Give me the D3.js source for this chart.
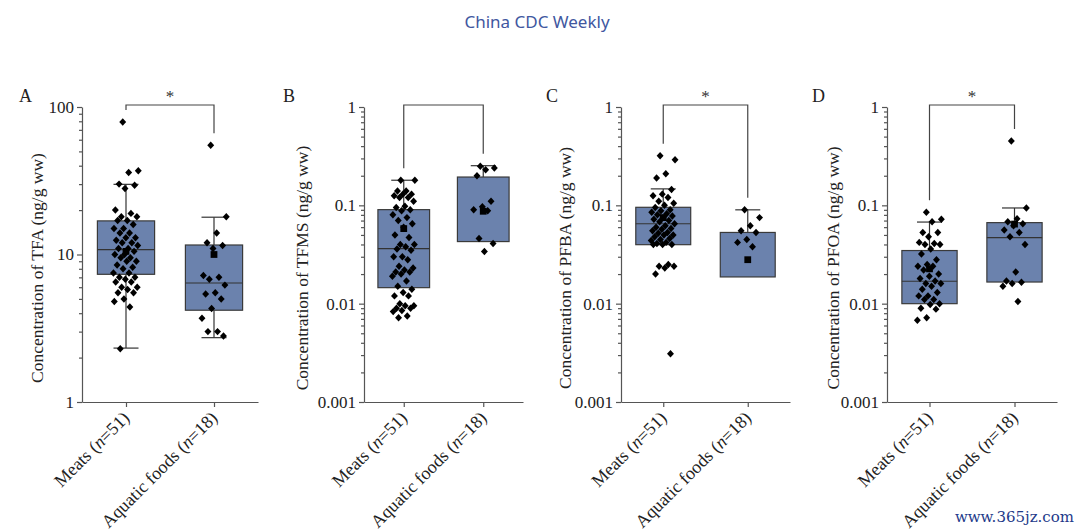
<!DOCTYPE html>
<html>
<head>
<meta charset="utf-8">
<script src="https://cdn.jsdelivr.net/npm/d3@7"></script>
<style>
  body { margin: 0; background: #fff; }
  svg { display: block; }
</style>
</head>
<body>
<div id="chart"></div>
<script>
// categories
const groups = ["Meats", "Aquatic foods"];
const groupN = [51, 18];
const panelLetters = ["A", "B", "C", "D"];
const compounds = ["TFA", "TFMS", "PFBA", "PFOA"];
const yDomains = [[1, 100], [0.001, 1], [0.001, 1], [0.001, 1]];
const significant = [true, false, true, true];

// individual samples (ng/g ww)
const meatsTFA = [79, 37, 36, 30, 29.5, 28, 20, 19, 18, 18, 17, 17, 16, 15, 15, 14, 14, 13, 13, 12.5,
  12, 12, 11.5, 11, 11, 10.5, 10, 10, 9.5, 9.5, 9, 9, 8.5, 8.2, 8, 7.5, 7.5, 7, 7, 6.8,
  6.5, 6.5, 6, 6, 5.8, 5.5, 5.5, 5, 4.8, 4.4, 2.3];
const aquaticTFA = [55, 18, 14, 12, 11.5, 11, 7.2, 7, 6.8, 6.2, 5.5, 5.4, 5, 4.3, 3.7, 3.0, 3.0, 2.8];

const meatsTFMS = [0.18, 0.18, 0.14, 0.14, 0.13, 0.13, 0.125, 0.12, 0.12, 0.11, 0.098, 0.095, 0.09, 0.088,
  0.08, 0.075, 0.07, 0.065, 0.06, 0.05, 0.047, 0.04, 0.04, 0.038, 0.036, 0.035, 0.03, 0.03, 0.028,
  0.024, 0.023, 0.022, 0.021, 0.021, 0.02, 0.019, 0.017, 0.015, 0.014, 0.013, 0.012, 0.012, 0.01,
  0.0095, 0.0095, 0.009, 0.009, 0.0085, 0.0083, 0.0075, 0.0072];
const aquaticTFMS = [0.25, 0.24, 0.23, 0.2, 0.11, 0.097, 0.09, 0.088, 0.046, 0.041, 0.034];

const meatsPFBA = [0.32, 0.29, 0.21, 0.19, 0.145, 0.13, 0.125, 0.12, 0.11, 0.105, 0.1, 0.095, 0.09, 0.088,
  0.085, 0.082, 0.08, 0.078, 0.075, 0.072, 0.07, 0.068, 0.065, 0.062, 0.06, 0.058, 0.057, 0.055, 0.053,
  0.052, 0.05, 0.05, 0.048, 0.046, 0.045, 0.044, 0.042, 0.041, 0.04, 0.04, 0.04, 0.025, 0.024, 0.024,
  0.023, 0.02, 0.0031];
const aquaticPFBA = [0.09, 0.075, 0.062, 0.055, 0.053, 0.045, 0.042, 0.038];

const meatsPFOA = [0.085, 0.072, 0.068, 0.053, 0.053, 0.048, 0.042, 0.041, 0.04, 0.04, 0.036, 0.032, 0.028,
  0.025, 0.024, 0.024, 0.022, 0.02, 0.019, 0.018, 0.017, 0.016, 0.016, 0.015, 0.014, 0.013, 0.012,
  0.012, 0.011, 0.011, 0.01, 0.0098, 0.009, 0.0088, 0.0072, 0.0068];
const aquaticPFOA = [0.45, 0.094, 0.073, 0.068, 0.065, 0.062, 0.056, 0.053, 0.048, 0.04, 0.021, 0.017,
  0.0165, 0.016, 0.015, 0.0105];

// box stats per group: [low whisker, Q1, median, Q3, high whisker, mean]
const statsTFA = [[2.32, 7.34, 10.8, 16.9, 29.9, 10.5], [2.73, 4.19, 6.41, 11.6, 17.9, 10.0]];
const statsTFMS = [[null, 0.01455, 0.0363, 0.0904, 0.18, 0.058], [null, 0.0428, null, 0.194, 0.253, 0.087]];
const statsPFBA = [[null, 0.0398, 0.065, 0.0955, 0.147, 0.075], [null, 0.0187, null, 0.053, 0.09, 0.028]];
const statsPFOA = [[null, 0.01, 0.0169, 0.0347, 0.0676, 0.0226], [null, 0.0166, 0.047, 0.0667, 0.094, 0.0645]];

const samples = [[meatsTFA, aquaticTFA], [meatsTFMS, aquaticTFMS], [meatsPFBA, aquaticPFBA], [meatsPFOA, aquaticPFOA]];
const stats = [statsTFA, statsTFMS, statsPFBA, statsPFOA];

// layout
const width = 1080, height = 532;
const panelX = [82, 364, 621, 887];
const panelW = [176, 159, 169, 170];
const letterX = [19, 283, 546, 812];
const titleX = [43, 308, 571, 839];
const yTop = 107, yBottom = 402;
const serif = "'Liberation Serif', 'Times New Roman', serif";
const boxFill = "#6b82ad";
const axisColor = "#555";

const svg = d3.select("#chart").append("svg")
  .attr("width", width)
  .attr("height", height)
  .attr("viewBox", [0, 0, width, height]);

svg.append("rect").attr("width", width).attr("height", height).attr("fill", "#fff");

svg.append("text")
  .attr("x", 537).attr("y", 28)
  .attr("text-anchor", "middle")
  .attr("font-family", "'Noto Sans', 'Open Sans', sans-serif")
  .attr("font-size", 17)
  .attr("fill", "#4157a0")
  .text("China CDC Weekly");

const diamond = {
  draw(ctx, size) {
    const r = Math.sqrt(size / 2);
    ctx.moveTo(0, -r * 1.08);
    ctx.lineTo(r, 0);
    ctx.lineTo(0, r * 1.08);
    ctx.lineTo(-r, 0);
    ctx.closePath();
  }
};

panelLetters.forEach((letter, p) => {
  const x0 = panelX[p], w = panelW[p];
  const g = svg.append("g");

  const x = d3.scalePoint().domain(groups).range([x0, x0 + w]).padding(0.5);
  const y = d3.scaleLog().domain(yDomains[p]).range([yBottom, yTop]);
  const bw = x.step() * 0.65;

  // y axis: minor + major log ticks
  const [lo, hi] = yDomains[p];
  const major = [], minor = [];
  for (let d = lo; d <= hi * 1.0001; d *= 10) {
    major.push(d);
    if (d < hi * 0.999) for (let k = 2; k <= 9; k++) minor.push(d * k);
  }
  const minorAxis = g.append("g").attr("transform", `translate(${x0},0)`)
    .call(d3.axisLeft(y).tickValues(minor).tickSize(3).tickSizeOuter(0).tickFormat(""));
  minorAxis.select(".domain").remove();
  const majorAxis = g.append("g").attr("transform", `translate(${x0},0)`)
    .call(d3.axisLeft(y).tickValues(major).tickSize(5).tickSizeOuter(0).tickPadding(3).tickFormat(d3.format("~g")));
  [minorAxis, majorAxis].forEach(a => {
    a.selectAll("line, path").attr("stroke", axisColor).attr("stroke-width", 1.2);
    a.selectAll("text").attr("font-family", serif).attr("font-size", 17).attr("fill", "#222");
  });

  // x axis
  const xAxis = g.append("g").attr("transform", `translate(0,${yBottom})`)
    .call(d3.axisBottom(x).tickSize(5).tickSizeOuter(0).tickFormat(""));
  xAxis.selectAll("line, path").attr("stroke", axisColor).attr("stroke-width", 1.2);
  xAxis.selectAll(".tick").each(function (d, i) {
    const t = d3.select(this).append("text")
      .attr("transform", "translate(4,17) rotate(-45)")
      .attr("text-anchor", "end")
      .attr("font-family", serif)
      .attr("font-size", 18)
      .attr("fill", "#222");
    t.append("tspan").text(`${d} (`);
    t.append("tspan").attr("font-style", "italic").text("n");
    t.append("tspan").text(`=${groupN[i]})`);
  });

  // y title
  g.append("text")
    .attr("transform", `translate(${titleX[p]},268) rotate(-90)`)
    .attr("text-anchor", "middle")
    .attr("font-family", serif)
    .attr("font-size", 17.5)
    .attr("fill", "#222")
    .text(`Concentration of ${compounds[p]} (ng/g ww)`);

  // panel letter
  g.append("text")
    .attr("x", letterX[p]).attr("y", 102)
    .attr("font-family", serif)
    .attr("font-size", 18)
    .attr("fill", "#222")
    .text(letter);

  // boxes
  groups.forEach((grp, i) => {
    const [wl, q1, med, q3, wh, mean] = stats[p][i];
    const cx = x(grp);
    const bg = g.append("g");
    bg.append("line")
      .attr("x1", cx).attr("x2", cx).attr("y1", y(q3)).attr("y2", y(wh))
      .attr("stroke", "#333").attr("stroke-width", 1.2);
    bg.append("line")
      .attr("x1", cx - 12.5).attr("x2", cx + 12.5).attr("y1", y(wh)).attr("y2", y(wh))
      .attr("stroke", "#333").attr("stroke-width", 1.2);
    if (wl != null) {
      bg.append("line")
        .attr("x1", cx).attr("x2", cx).attr("y1", y(q1)).attr("y2", y(wl))
        .attr("stroke", "#333").attr("stroke-width", 1.2);
      bg.append("line")
        .attr("x1", cx - 12.5).attr("x2", cx + 12.5).attr("y1", y(wl)).attr("y2", y(wl))
        .attr("stroke", "#333").attr("stroke-width", 1.2);
    }
    bg.append("rect")
      .attr("x", cx - bw / 2).attr("width", bw)
      .attr("y", y(q3)).attr("height", y(q1) - y(q3))
      .attr("fill", boxFill).attr("stroke", "#3a3a3a").attr("stroke-width", 1.2);
    if (med != null) {
      bg.append("line")
        .attr("x1", cx - bw / 2).attr("x2", cx + bw / 2).attr("y1", y(med)).attr("y2", y(med))
        .attr("stroke", "#333").attr("stroke-width", 1.2);
    }

    // jittered sample points
    const spread = bw * 0.22;
    bg.selectAll("path.pt")
      .data(samples[p][i])
      .join("path")
      .attr("class", "pt")
      .attr("d", d3.symbol(diamond, 24))
      .attr("transform", (v, k) => `translate(${cx + (((k * 0.618034 + 0.37) % 1) - 0.5) * 2 * spread},${y(v)})`)
      .attr("fill", "#000");

    bg.append("path")
      .attr("d", d3.symbol(d3.symbolSquare, 46))
      .attr("transform", `translate(${cx},${y(mean)})`)
      .attr("fill", "#000");
  });

  // comparison bracket
  const topY = yTop - 2;
  const legEnd = groups.map((grp, i) => y(Math.max(d3.max(samples[p][i]), stats[p][i][4])) - 12);
  g.append("path")
    .attr("d", `M${x(groups[0])},${legEnd[0]}V${topY}H${x(groups[1])}V${legEnd[1]}`)
    .attr("fill", "none")
    .attr("stroke", "#444")
    .attr("stroke-width", 1.2);
  if (significant[p]) {
    g.append("text")
      .attr("x", (x(groups[0]) + x(groups[1])) / 2)
      .attr("y", topY - 3)
      .attr("text-anchor", "middle")
      .attr("font-family", serif)
      .attr("font-size", 17)
      .attr("fill", "#333")
      .text("*");
  }
});

svg.append("text")
  .attr("x", 1074).attr("y", 522)
  .attr("text-anchor", "end")
  .attr("font-family", "'DejaVu Serif', serif")
  .attr("font-size", 15)
  .attr("fill", "#1e3a8a")
  .text("www.365jz.com");
</script>
</body>
</html>
